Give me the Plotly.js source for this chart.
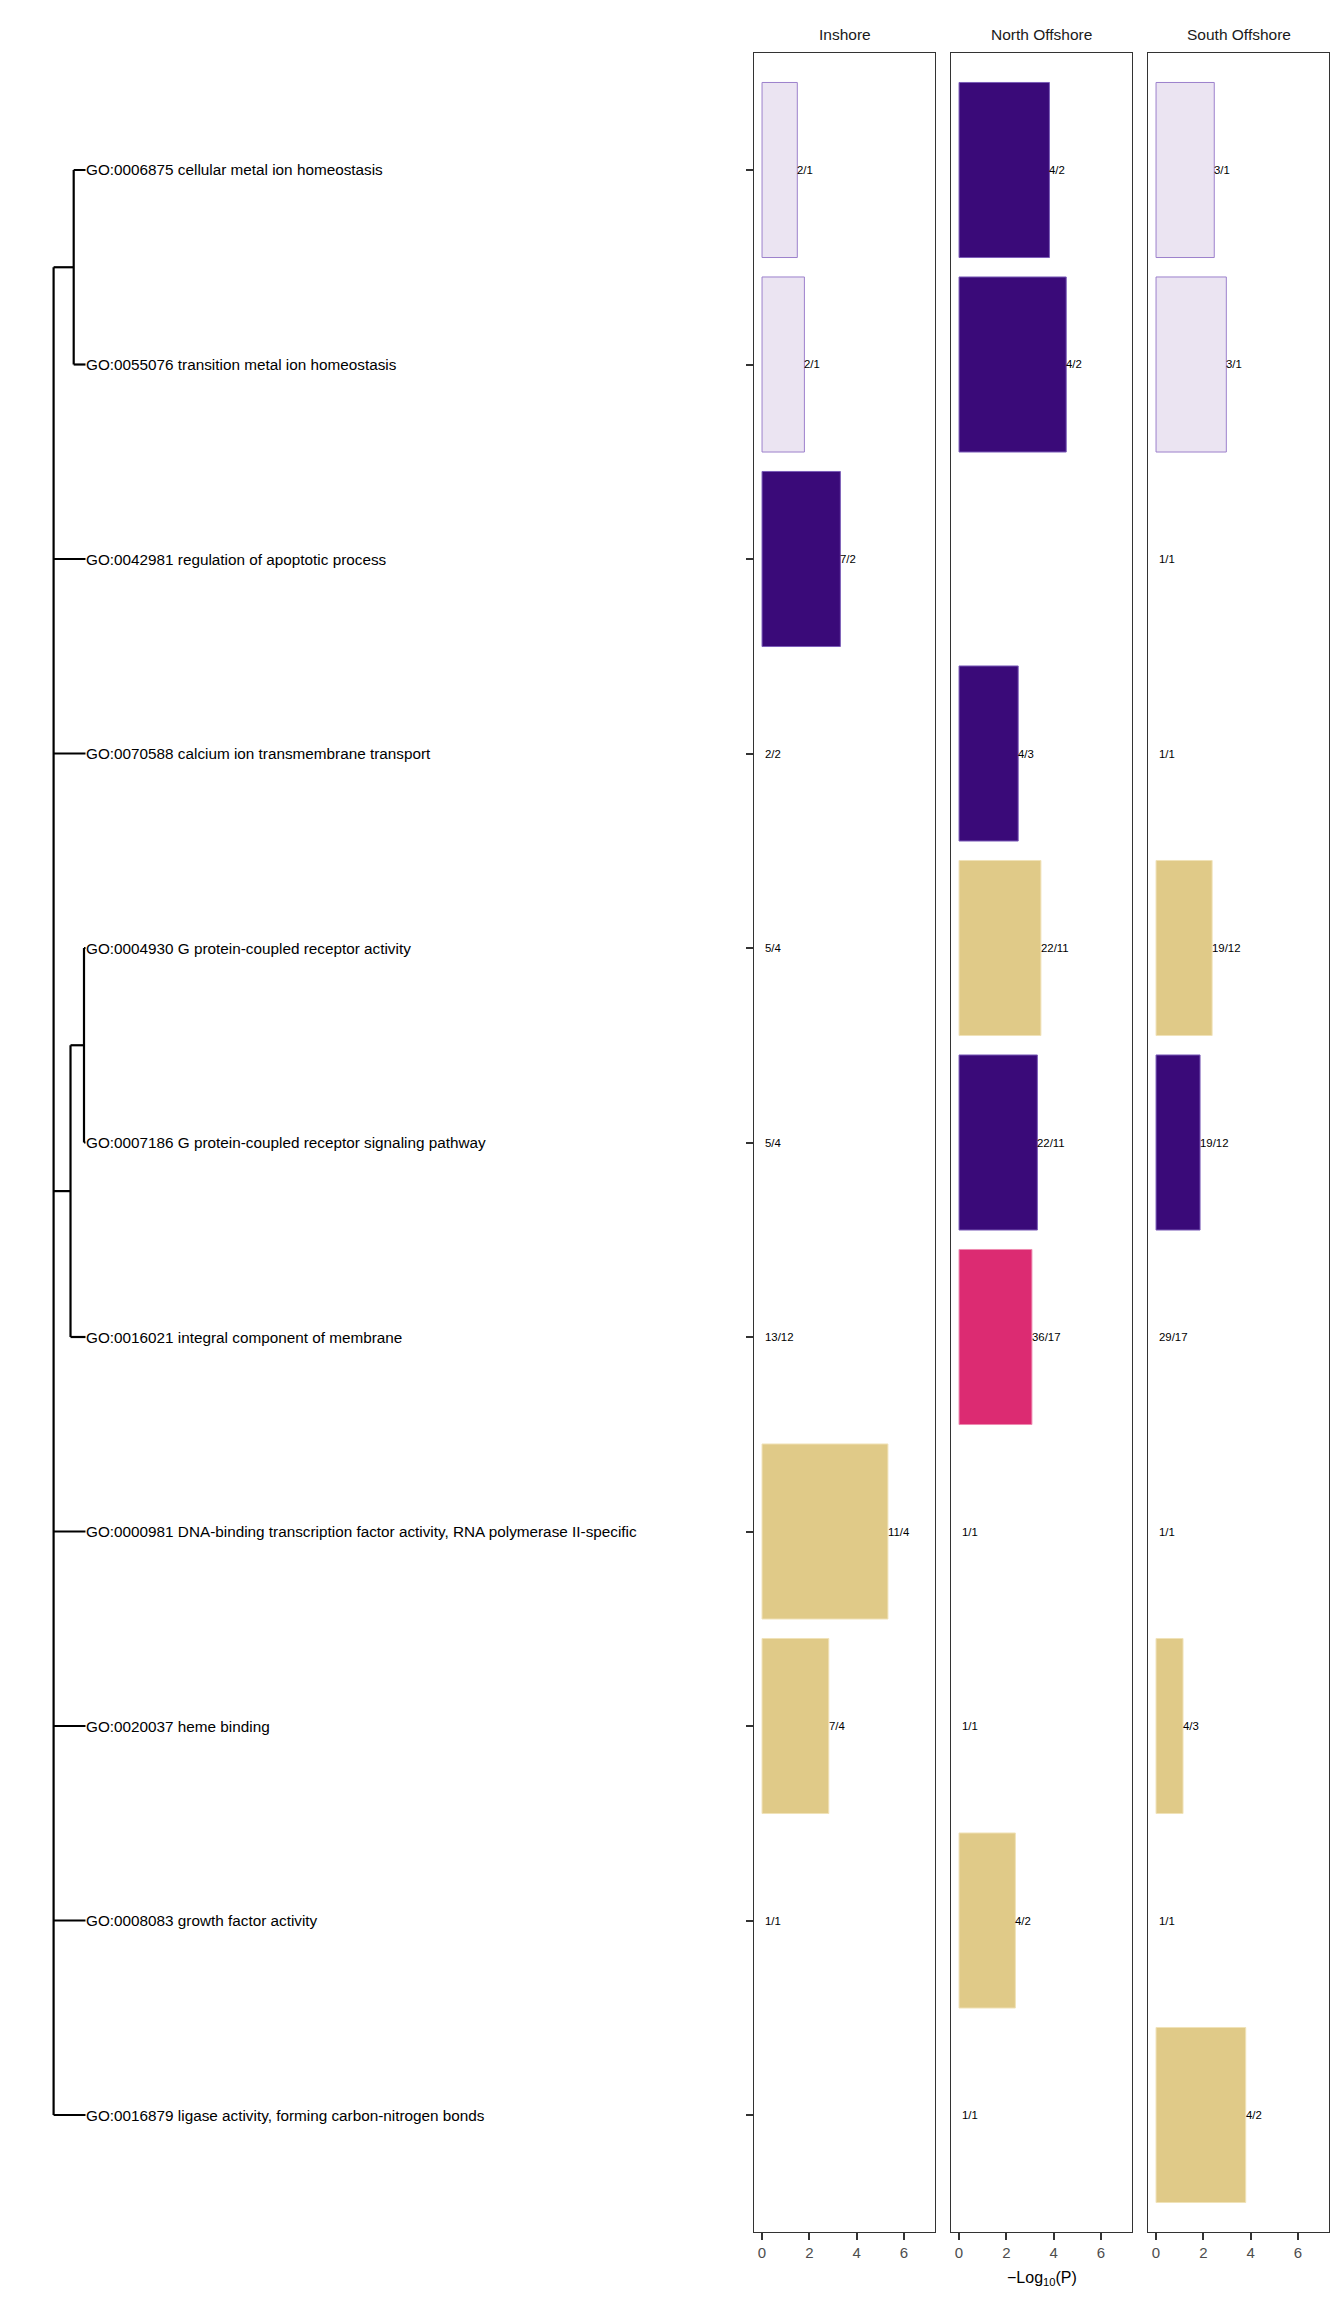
<!DOCTYPE html>
<html>
<head>
<meta charset="utf-8">
<script src="https://cdn.plot.ly/plotly-3.0.1.min.js"></script>
<style>html,body{margin:0;padding:0;background:#fff;}#chart{width:1344px;height:2304px;}</style>
</head>
<body>
<div id="chart"></div>
<script>
// ---------------- data ----------------
const terms = [
  "GO:0006875 cellular metal ion homeostasis",
  "GO:0055076 transition metal ion homeostasis",
  "GO:0042981 regulation of apoptotic process",
  "GO:0070588 calcium ion transmembrane transport",
  "GO:0004930 G protein-coupled receptor activity",
  "GO:0007186 G protein-coupled receptor signaling pathway",
  "GO:0016021 integral component of membrane",
  "GO:0000981 DNA-binding transcription factor activity, RNA polymerase II-specific",
  "GO:0020037 heme binding",
  "GO:0008083 growth factor activity",
  "GO:0016879 ligase activity, forming carbon-nitrogen bonds"
];
const panels = ["Inshore", "North Offshore", "South Offshore"];

const inshoreLogP  = [1.49, 1.79, 3.31, null, null, null, null, 5.32, 2.82, null, null];
const inshoreLabel = ["2/1", "2/1", "7/2", "2/2", "5/4", "5/4", "13/12", "11/4", "7/4", "1/1", ""];
const inshoreClass = ["light", "light", "dark", null, null, null, null, "beige", "beige", null, null];

const northLogP  = [3.82, 4.53, null, 2.50, 3.46, 3.31, 3.08, null, null, 2.38, null];
const northLabel = ["4/2", "4/2", "", "4/3", "22/11", "22/11", "36/17", "1/1", "1/1", "4/2", "1/1"];
const northClass = ["dark", "dark", null, "dark", "beige", "dark", "pink", null, null, "beige", null];

const southLogP  = [2.46, 2.97, null, null, 2.37, 1.86, null, null, 1.14, null, 3.79];
const southLabel = ["3/1", "3/1", "1/1", "1/1", "19/12", "19/12", "29/17", "1/1", "4/3", "1/1", "4/2"];
const southClass = ["light", "light", null, null, "beige", "dark", null, null, "beige", null, "beige"];

const xTicks = [0, 2, 4, 6];

// dendrogram: internal nodes (children: leaf row index or node name) and heights
const nodeNames    = ["n0", "n1", "n2", "root"];
const nodeChildren = [[0, 1], [4, 5], ["n1", 6], ["n0", 2, 3, "n2", 7, 8, 9, 10]];
const nodeHeights  = [0.37, 0.047, 0.47, 1.0];

// ---------------- styles ----------------
const classFill = {light: "#EBE4F2", dark: "#3A0A79", beige: "#E0CA88", pink: "#DC2B72"};
const classLine = {light: "#9C80CC", dark: "#7A5CB8", beige: "#F0E2B8", pink: "#EE8AB0"};
const FONT = "Liberation Sans, Arial, Helvetica, sans-serif";
const W = 1344, H = 2304;
const fx = p => p / W;
const fy = p => 1 - p / H;
const panelX = [[754, 935], [951, 1132], [1148, 1329]];
const panelTop = 53.3, panelBottom = 2231.7;
const yDomain = [fy(panelBottom), fy(panelTop)];
const xRange = [-0.34, 7.31];
const yRange = [10.6, -0.6];

const seriesP = [inshoreLogP, northLogP, southLogP];
const seriesL = [inshoreLabel, northLabel, southLabel];
const seriesC = [inshoreClass, northClass, southClass];

const traces = [];
const annotations = [];
const layout = {
  width: W, height: H,
  margin: {l: 0, r: 0, t: 0, b: 0},
  paper_bgcolor: "#fff", plot_bgcolor: "#fff",
  showlegend: false,
  font: {family: FONT, color: "#000"},
  bargap: 0.1
};

panels.forEach((name, k) => {
  const sx = k === 0 ? "" : String(k + 1);
  const P = seriesP[k], L = seriesL[k], C = seriesC[k];
  traces.push({
    type: "bar", orientation: "h",
    x: P, y: terms,
    xaxis: "x" + sx, yaxis: "y" + sx,
    width: 0.9,
    marker: {
      color: C.map(c => c ? classFill[c] : "rgba(0,0,0,0)"),
      line: {color: C.map(c => c ? classLine[c] : "rgba(0,0,0,0)"), width: 1}
    },
    hoverinfo: "x+y"
  });
  layout["xaxis" + sx] = {
    domain: [fx(panelX[k][0]), fx(panelX[k][1])],
    anchor: "y" + sx,
    range: xRange,
    tickvals: xTicks,
    ticks: "outside", ticklen: 7, tickwidth: 2, tickcolor: "#333",
    tickfont: {size: 15, color: "#4D4D4D", family: FONT},
    showgrid: false, zeroline: false,
    showline: true, mirror: true, linecolor: "#333", linewidth: 1.3
  };
  layout["yaxis" + sx] = {
    domain: yDomain,
    anchor: "x" + sx,
    type: "category",
    categoryorder: "array", categoryarray: terms,
    range: yRange,
    showticklabels: false,
    ticks: k === 0 ? "outside" : "",
    ticklen: 7, tickwidth: 2, tickcolor: "#333",
    showgrid: false, zeroline: false,
    showline: true, mirror: true, linecolor: "#333", linewidth: 1.3
  };
  // facet title
  annotations.push({
    xref: "paper", yref: "paper",
    x: (fx(panelX[k][0]) + fx(panelX[k][1])) / 2, y: fy(35),
    xanchor: "center", yanchor: "middle",
    text: name, showarrow: false,
    font: {size: 15.5, color: "#1A1A1A", family: FONT}
  });
  // count labels
  L.forEach((lab, i) => {
    if (!lab) return;
    const v = P[i];
    annotations.push({
      xref: "x" + sx, yref: "y" + sx,
      x: v == null ? 0 : v, y: i,
      xanchor: "left", yanchor: "middle",
      xshift: v == null ? 3 : 0,
      borderpad: 0, borderwidth: 0,
      text: lab, showarrow: false,
      font: {size: 11.4, color: "#000", family: FONT}
    });
  });
});

// x axis title
annotations.push({
  xref: "paper", yref: "paper",
  x: (fx(panelX[1][0]) + fx(panelX[1][1])) / 2, y: fy(2278),
  xanchor: "center", yanchor: "middle",
  text: "\u2212Log<sub>10</sub>(P)", showarrow: false,
  font: {size: 16, color: "#000", family: FONT}
});

// ---------------- dendrogram ----------------
const nodeY = {}, nodeH = {};
function childY(c) { return typeof c === "number" ? c : nodeY[c]; }
function childH(c) { return typeof c === "number" ? 0 : nodeH[c]; }
nodeNames.forEach((n, j) => {
  const ys = nodeChildren[j].map(childY);
  nodeY[n] = (Math.min(...ys) + Math.max(...ys)) / 2;
  nodeH[n] = nodeHeights[j];
});
const dx = [], dy = [];
nodeNames.forEach((n, j) => {
  const h = nodeHeights[j];
  const ys = nodeChildren[j].map(childY);
  dx.push(h, h, null); dy.push(Math.min(...ys), Math.max(...ys), null);
  nodeChildren[j].forEach(c => {
    dx.push(h, childH(c), null); dy.push(childY(c), childY(c), null);
  });
});
traces.push({
  type: "scatter", mode: "lines",
  x: dx, y: dy, xaxis: "x4", yaxis: "y4",
  line: {color: "#000", width: 2.2},
  hoverinfo: "skip", connectgaps: false
});
layout.xaxis4 = {
  domain: [0, fx(754)], anchor: "y4",
  range: [85.5 / 31.9, (85.5 - 754) / 31.9],
  visible: false, showgrid: false, zeroline: false
};
layout.yaxis4 = {
  domain: yDomain, anchor: "x4",
  range: yRange, visible: false, showgrid: false, zeroline: false
};
terms.forEach((t, i) => {
  annotations.push({
    xref: "x4", yref: "y4", x: 0, y: i,
    xanchor: "left", yanchor: "middle",
    borderpad: 0, borderwidth: 0,
    text: t, showarrow: false,
    font: {size: 15.3, color: "#000", family: FONT}
  });
});

layout.annotations = annotations;
Plotly.newPlot("chart", traces, layout, {displayModeBar: false, staticPlot: true});
</script>
</body>
</html>
